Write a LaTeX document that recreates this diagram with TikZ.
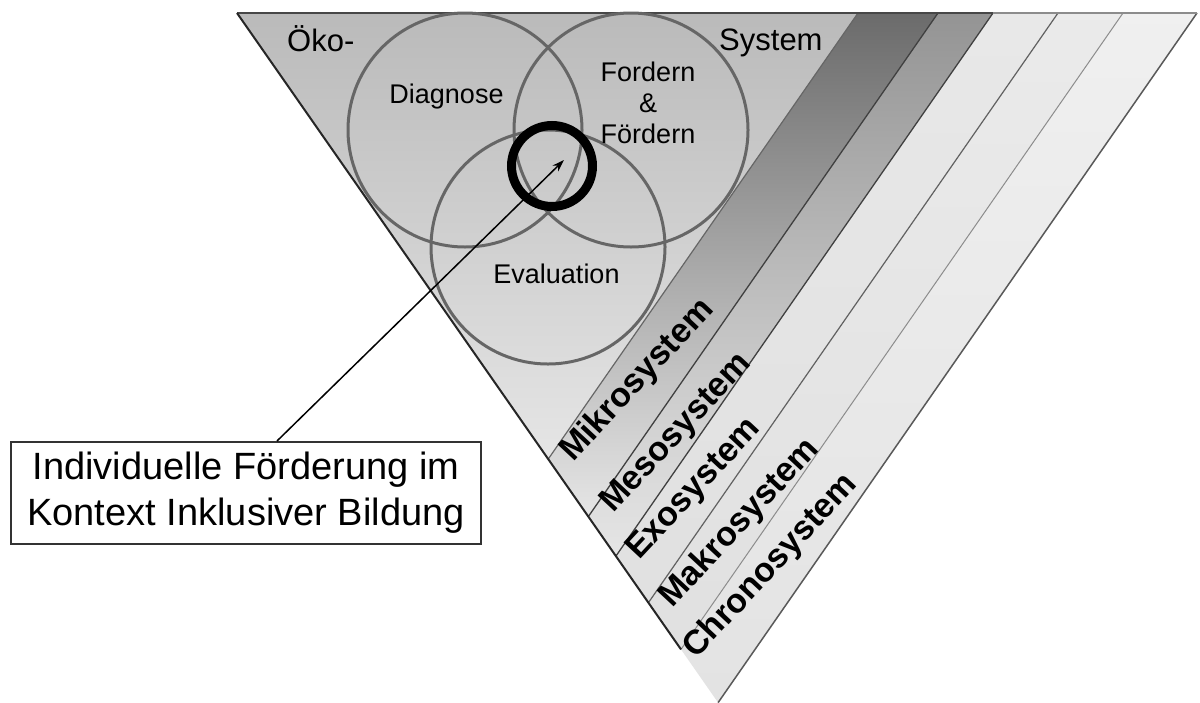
\documentclass[tikz,border=0pt]{standalone}
\usepackage{fontspec}
\setmainfont{Liberation Sans}
\usetikzlibrary{arrows.meta}
\begin{document}
\begin{tikzpicture}[x=1pt,y=-1pt,
  ring/.style={circle, draw=black!60, line width=3pt, minimum size=234pt, inner sep=0pt},
  lbl/.style={font=\fontsize{27}{31}\selectfont, inner sep=0pt, anchor=base},
  eco/.style={font=\fontsize{31}{36}\selectfont, inner sep=0pt, anchor=base west},
  bandlabel/.style={font=\bfseries\fontsize{34}{38}\selectfont, inner sep=0pt, anchor=base west, rotate=47},
]
\useasboundingbox (0,0) rectangle (1200,702);
\clip (0,0) rectangle (1200,702);
\fill[white] (0,0) rectangle (1200,702);

% corners of the layered triangle
\coordinate (T0) at (237,13);
\coordinate (t1) at (858,13);
\coordinate (t2) at (938,13);
\coordinate (t3) at (993,13);
\coordinate (t4) at (1058,13);
\coordinate (t5) at (1123,13);
\coordinate (t6) at (1197,13);
\coordinate (b1) at (548.2,459.1);
\coordinate (b2) at (588.3,516.6);
\coordinate (b3) at (615.9,556.1);
\coordinate (b4) at (648.4,602.7);
\coordinate (b5) at (681.0,649.4);
\coordinate (b6) at (718.1,702.6);

% inner triangle and the diagonal bands
\shade[top color=black!27, bottom color=black!10] (T0) -- (t1) -- (b1) -- cycle;
\shade[top color=black!58, middle color=black!27, bottom color=black!10] (t1) -- (t2) -- (b2) -- (b1) -- cycle;
\shade[top color=black!42, middle color=black!19, bottom color=black!10] (t2) -- (t3) -- (b3) -- (b2) -- cycle;
\shade[top color=black!9, bottom color=black!12] (t3) -- (t4) -- (b4) -- (b3) -- cycle;
\shade[top color=black!8, bottom color=black!12] (t4) -- (t5) -- (b5) -- (b4) -- cycle;
\shade[top color=black!6, bottom color=black!11] (t5) -- (t6) -- (b6) -- (b5) -- cycle;

% band borders
\draw[black!60, line width=1.2pt] (t1) -- (b1);
\draw[black!75, line width=1.3pt] (t2) -- (b2);
\draw[black!75, line width=1.3pt] (t3) -- (b3);
\draw[black!62, line width=1.2pt] (t4) -- (b4);
\draw[black!45, line width=1pt] (t5) -- (b5);
\draw[black!65, line width=1.5pt] (t6) -- (b6);
\draw[black!72, line width=2pt] (T0) -- (t3);
\draw[black!45, line width=1.5pt] (t3) -- (t6);
\draw[black!85, line width=2pt] (T0) -- (b5);

% the three overlapping circles
\node[ring] (diag) at (465,130) {};
\node[ring] (ford) at (631,130) {};
\node[ring] (eval) at (548,247) {};
\node[circle, draw=black, line width=9pt, minimum size=81pt, inner sep=0pt] (focus) at (552,166) {};

\node[lbl] (ldiag) at (446.5,103) {Diagnose};
\node[lbl] (lford1) at (648,81) {Fordern};
\node[lbl] (lford2) at (648,112) {\&};
\node[lbl] (lford3) at (648,143) {Fördern};
\node[lbl] (leval) at (556.5,283) {Evaluation};

\node[eco] (oeko) at (287,51) {Öko-};
\node[eco] (system) at (719,50) {System};

% system labels
\node[bandlabel] (mikro) at (573,463) {Mikrosystem};
\node[bandlabel] (meso) at (613,514) {Mesosystem};
\node[bandlabel] (exo) at (639,561) {Exosystem};
\node[bandlabel] (makro) at (672,609) {Makrosystem};
\node[bandlabel] (chrono) at (696,660) {Chronosystem};

% caption box with pointer
\node[draw=black!80, line width=2pt, fill=white, minimum width=470pt, minimum height=102pt,
      inner sep=0pt, align=center, font=\fontsize{38}{46}\selectfont] (box) at (246,493)
      {Individuelle Förderung im\\Kontext Inklusiver Bildung};
\coordinate (tip) at (564,160);
\draw[line width=1.5pt, -{Stealth[length=12pt, width=8pt]}] ([xshift=31pt]box.north) -- (tip);
\end{tikzpicture}
\end{document}
